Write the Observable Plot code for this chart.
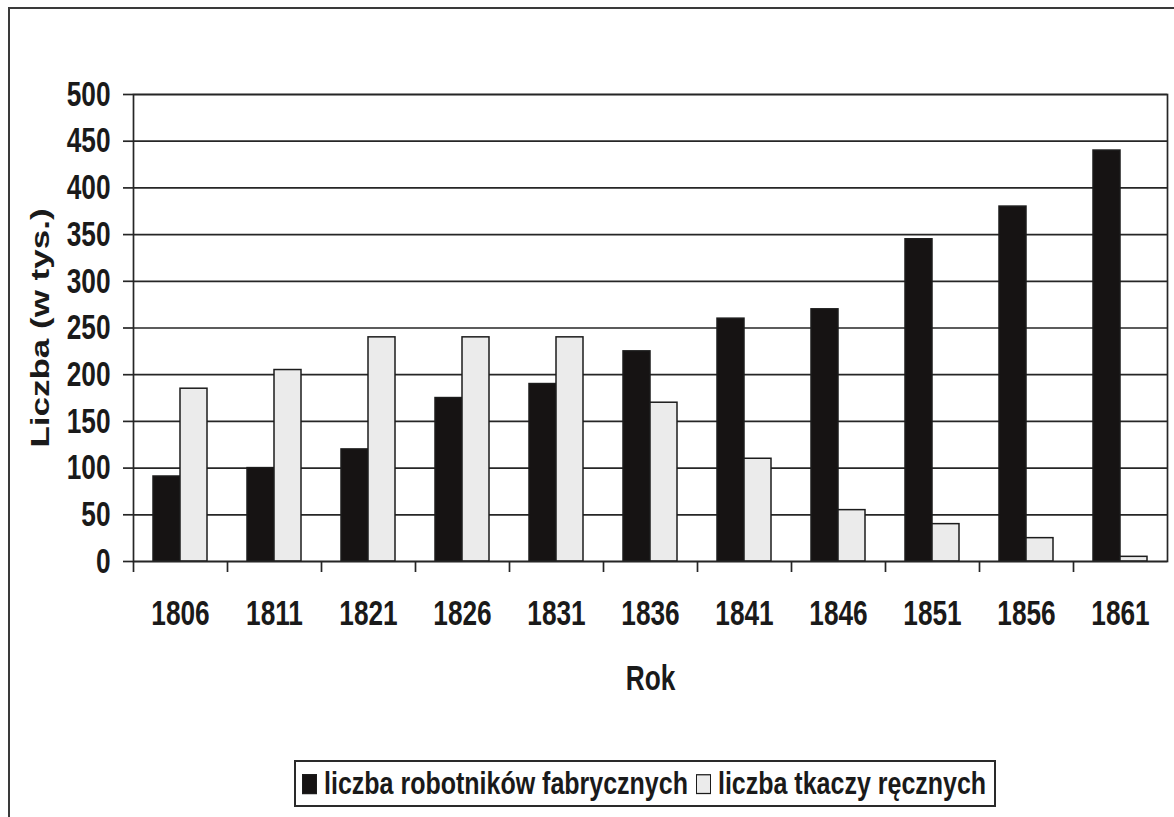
<!DOCTYPE html>
<html>
<head>
<meta charset="utf-8">
<script src="https://cdn.jsdelivr.net/npm/d3@7"></script>
<script src="https://cdn.jsdelivr.net/npm/@observablehq/plot@0.6"></script>
<style>
  html, body { margin: 0; padding: 0; background: #fff; }
  #page { position: relative; width: 1174px; height: 817px; overflow: hidden; background: #fff; }
  #outer { position: absolute; left: 8px; top: 7px; width: 1300px; height: 900px; border: 2px solid #3a3a3a; box-sizing: border-box; }
  #chart { position: absolute; left: 0; top: 0; }
  #legend { position: absolute; left: 294px; top: 760px; width: 702px; height: 47px; border: 2px solid #2a2a2a; box-sizing: border-box;
            display: flex; align-items: center; padding-left: 6px; font-family: "Liberation Sans", Arial, sans-serif; font-weight: bold;
            font-size: 25px; color: #1a1a1a; }
  #legend .inner { display: flex; align-items: center; transform: scaleY(1.25); transform-origin: left center; white-space: nowrap; }
  #legend .sw { display: inline-block; width: 15px; height: 16px; box-sizing: border-box; border: 1.5px solid #1c1c1c; margin-right: 7px; }
  #legend .item { display: flex; align-items: center; margin-right: 8px; }
</style>
</head>
<body>
<div id="page">
  <div id="outer"></div>
  <div id="chart"></div>
  <div id="legend"><div class="inner"></div></div>
</div>
<script>
// ---- data ----
const years = ["1806", "1811", "1821", "1826", "1831", "1836", "1841", "1846", "1851", "1856", "1861"];
const seriesNames = ["liczba robotników fabrycznych", "liczba tkaczy ręcznych"];
const robotnicy = [91, 100, 120, 175, 190, 225, 260, 270, 345, 380, 440];
const tkacze = [185, 205, 240, 240, 240, 170, 110, 55, 40, 25, 5];
const yTicks = [0, 50, 100, 150, 200, 250, 300, 350, 400, 450, 500];
const seriesColors = ["#161313", "#ebebeb"];
const yLabel = "Liczba (w tys.)";
const xLabel = "Rok";

const data = [];
years.forEach((yr, i) => {
  data.push({year: yr, series: seriesNames[0], value: robotnicy[i]});
  data.push({year: yr, series: seriesNames[1], value: tkacze[i]});
});

const W = 1174, H = 720, ML = 133, MR = 7, MT = 94, MB = 159;
const band = (W - ML - MR) / years.length;
const ink = "#262626";

const chart = Plot.plot({
  width: W, height: H,
  marginLeft: ML, marginRight: MR, marginTop: MT, marginBottom: MB,
  style: {fontFamily: "'Liberation Sans', Arial, sans-serif", fontWeight: "bold", color: "#1a1a1a", background: "transparent", overflow: "visible"},
  fx: {domain: years, padding: 0, label: xLabel},
  x: {domain: seriesNames, paddingInner: 0, paddingOuter: 0.68, axis: null},
  y: {domain: [0, 500], label: yLabel},
  color: {domain: seriesNames, range: seriesColors},
  marks: [
    Plot.ruleY(yTicks, {stroke: ink, strokeWidth: 1.7}),
    Plot.barY(data, {fx: "year", x: "series", y: "value", fill: "series", stroke: "#1c1c1c", strokeWidth: 1.5}),
    Plot.frame({facet: "super", stroke: ink, strokeWidth: 1.7}),
    Plot.axisY({ticks: yTicks, tickSize: 10, tickPadding: 13, fontSize: 35, fontWeight: "bold", stroke: ink, strokeWidth: 1.7,
                label: null}),
    Plot.axisY({ticks: [], tickSize: 0, fontSize: 35, fontWeight: "bold",
                label: yLabel, labelAnchor: "center", labelArrow: "none", labelOffset: 103}),
    Plot.axisFx({anchor: "bottom", tickSize: 0, tickPadding: 39, fontSize: 35, fontWeight: "bold",
                 label: xLabel, labelAnchor: "center", labelArrow: "none", labelOffset: 128}),
    Plot.axisFx({anchor: "bottom", tickSize: 11, tickFormat: () => "", label: null, dx: -band / 2, stroke: ink, strokeWidth: 1.7})
  ]
});

// horizontal compression of text to mimic the narrow look of the reference
chart.querySelectorAll("text").forEach(t => {
  const xa = t.getAttribute("x"), ya = t.getAttribute("y");
  const x = xa != null && !isNaN(+xa) ? +xa : 0;
  const y = ya != null && !isNaN(+ya) ? +ya : 0;
  if (xa != null && !isNaN(+xa)) t.removeAttribute("x");
  if (ya != null && !isNaN(+ya)) t.removeAttribute("y");
  let tr = t.getAttribute("transform") || "";
  if (x || y) tr += ` translate(${x},${y})`;
  const rot = /rotate\(\s*-?90/.test(tr);
  tr += rot ? " scale(1,0.75)" : " scale(0.75,1)";
  t.setAttribute("transform", tr.trim());
});

document.getElementById("chart").appendChild(chart);

// legend
const inner = document.querySelector("#legend .inner");
seriesNames.forEach((name, i) => {
  const item = document.createElement("span");
  item.className = "item";
  const sw = document.createElement("span");
  sw.className = "sw";
  sw.style.background = seriesColors[i];
  const lab = document.createElement("span");
  lab.textContent = name;
  item.appendChild(sw); item.appendChild(lab);
  inner.appendChild(item);
});
</script>
</body>
</html>
